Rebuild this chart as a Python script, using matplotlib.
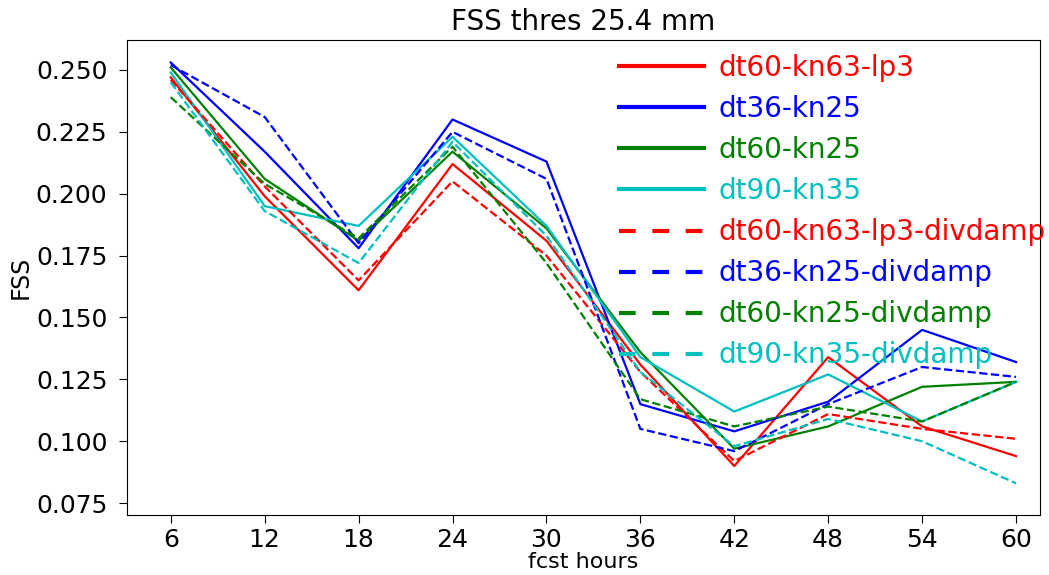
import numpy as np
import matplotlib
matplotlib.use("Agg")
import matplotlib.pyplot as plt

# forecast hours
hours = [6, 12, 18, 24, 30, 36, 42, 48, 54, 60]

# FSS values (threshold 25.4 mm)
dt60_kn63_lp3 = [0.247, 0.199, 0.161, 0.212, 0.181, 0.131, 0.090, 0.134, 0.106, 0.094]
dt36_kn25 = [0.253, 0.217, 0.178, 0.230, 0.213, 0.115, 0.104, 0.116, 0.145, 0.132]
dt60_kn25 = [0.251, 0.206, 0.181, 0.217, 0.186, 0.136, 0.097, 0.106, 0.122, 0.124]
dt90_kn35 = [0.249, 0.195, 0.187, 0.223, 0.187, 0.134, 0.112, 0.127, 0.108, 0.124]
dt60_kn63_lp3_dd = [0.246, 0.203, 0.165, 0.205, 0.175, 0.128, 0.092, 0.111, 0.105, 0.101]
dt36_kn25_dd = [0.252, 0.231, 0.180, 0.225, 0.206, 0.105, 0.096, 0.115, 0.130, 0.126]
dt60_kn25_dd = [0.239, 0.204, 0.182, 0.219, 0.172, 0.117, 0.106, 0.114, 0.108, 0.124]
dt90_kn35_dd = [0.245, 0.193, 0.172, 0.221, 0.183, 0.128, 0.098, 0.109, 0.100, 0.083]

labels = ['dt60-kn63-lp3', 'dt36-kn25', 'dt60-kn25', 'dt90-kn35',
          'dt60-kn63-lp3-divdamp', 'dt36-kn25-divdamp', 'dt60-kn25-divdamp', 'dt90-kn35-divdamp']
series = [dt60_kn63_lp3, dt36_kn25, dt60_kn25, dt90_kn35,
          dt60_kn63_lp3_dd, dt36_kn25_dd, dt60_kn25_dd, dt90_kn35_dd]
colors = ['r', 'b', 'g', 'c', 'r', 'b', 'g', 'c']
styles = ['-', '-', '-', '-', '--', '--', '--', '--']

fig = plt.figure(figsize=(10.49, 5.75), dpi=100)
ax = fig.add_axes([0.121, 0.1043, 0.870, 0.8261])

for y, lab, c, ls in zip(series, labels, colors, styles):
    ax.plot(hours, y, color=c, linestyle=ls, linewidth=1.6, label=lab)

ax.set_xticks(hours)
ax.set_xlim(3.2, 61.5)
ax.set_ylim(0.0702, 0.2621)
ax.set_yticks([0.075, 0.100, 0.125, 0.150, 0.175, 0.200, 0.225, 0.250])
ax.tick_params(labelsize=18, length=6)
ax.tick_params(axis='y', pad=8)
ax.tick_params(axis='x', pad=3)
ax.set_xlabel('fcst hours', fontsize=16, labelpad=0)
ax.set_ylabel('FSS', fontsize=17, labelpad=2)
ax.set_title('FSS thres 25.4 mm', fontsize=20, pad=7)

leg = ax.legend(loc='upper left', bbox_to_anchor=(619 / 1049, 1 - 54 / 575),
                bbox_transform=fig.transFigure, frameon=False, fontsize=20,
                labelcolor='linecolor', handlelength=3.05, handletextpad=0.54,
                labelspacing=0.47, borderpad=0, borderaxespad=0)
for h, ls in zip(leg.get_lines(), styles):
    h.set_linewidth(3)
    if ls == '--':
        h.set_dashes([4, 4])

fig.savefig('out.png', dpi=100)
